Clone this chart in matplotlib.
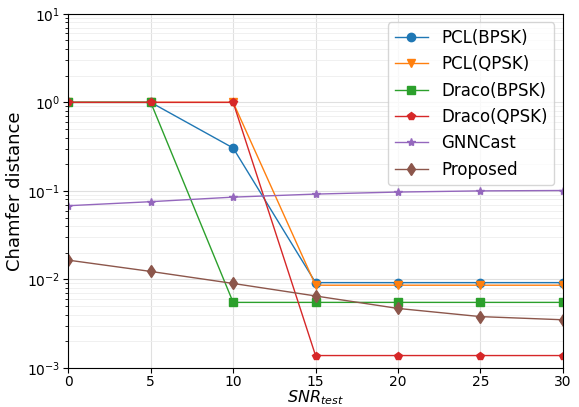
import matplotlib
matplotlib.use("Agg")
import matplotlib.pyplot as plt

snr = [0, 5, 10, 15, 20, 25, 30]
pcl_bpsk = [1.0, 1.0, 0.305, 0.0092, 0.0092, 0.0092, 0.0092]
pcl_qpsk = [1.0, 1.0, 1.0, 0.0086, 0.0086, 0.0086, 0.0086]
draco_bpsk = [1.0, 1.0, 0.0055, 0.0055, 0.0055, 0.0055, 0.0055]
draco_qpsk = [1.0, 1.0, 1.0, 0.00138, 0.00138, 0.00138, 0.00138]
gnncast = [0.068, 0.0755, 0.085, 0.092, 0.097, 0.1, 0.101]
proposed = [0.0165, 0.0123, 0.009, 0.0065, 0.0047, 0.0038, 0.0035]

series = [
    ("PCL(BPSK)", pcl_bpsk, "o"),
    ("PCL(QPSK)", pcl_qpsk, "v"),
    ("Draco(BPSK)", draco_bpsk, "s"),
    ("Draco(QPSK)", draco_qpsk, "p"),
    ("GNNCast", gnncast, "*"),
    ("Proposed", proposed, "d"),
]

fig, ax = plt.subplots(figsize=(5.79, 4.07), dpi=100)
for name, vals, mk in series:
    ax.plot(snr, vals, marker=mk, linewidth=1, markersize=6, label=name)

ax.set_yscale("log")
ax.set_ylim(1e-3, 1e1)
ax.set_xlim(0, 30)
ax.set_xticks(snr)
ax.grid(True, which="major", color="#e0e0e0", linewidth=0.8)
ax.grid(True, which="minor", axis="y", color="#eeeeee", linewidth=0.6)
ax.set_axisbelow(True)
ax.set_xlabel("$SNR_{test}$", fontsize=11.5)
ax.xaxis.set_label_coords(0.5, -0.058)
ax.set_ylabel("Chamfer distance", fontsize=13, labelpad=2)
ax.tick_params(axis="y", labelsize=10, pad=2.5)
ax.tick_params(axis="x", labelsize=10, pad=1.5)
ax.legend(fontsize=12, loc="upper right")
fig.subplots_adjust(left=0.118, right=0.972, top=0.966, bottom=0.096)
fig.savefig("out.png", dpi=100)
